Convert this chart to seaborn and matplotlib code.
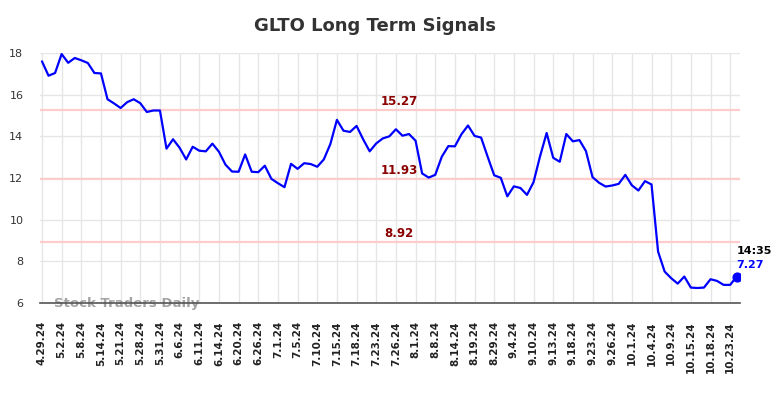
import pandas as pd
import matplotlib
matplotlib.use("Agg")
import matplotlib.pyplot as plt
import matplotlib.transforms as mtransforms
import seaborn as sns

# closing values, one per session
prices = [
    17.60, 16.91, 17.04, 17.95, 17.53, 17.76, 17.65, 17.52, 17.04, 17.02,
    15.78, 15.58, 15.36, 15.64, 15.78, 15.59, 15.17, 15.24, 15.24, 13.41,
    13.86, 13.45, 12.89, 13.50, 13.31, 13.28, 13.65, 13.26, 12.64, 12.31,
    12.30, 13.13, 12.30, 12.28, 12.59, 11.96, 11.75, 11.56, 12.68, 12.44,
    12.71, 12.67, 12.54, 12.89, 13.63, 14.79, 14.27, 14.21, 14.50, 13.86,
    13.28, 13.66, 13.90, 14.00, 14.34, 14.03, 14.11, 13.79, 12.22, 12.02,
    12.15, 13.02, 13.53, 13.52, 14.10, 14.52, 14.02, 13.94, 13.02, 12.13,
    12.01, 11.12, 11.60, 11.52, 11.19, 11.80, 13.05, 14.16, 12.97, 12.78,
    14.11, 13.76, 13.82, 13.29, 12.04, 11.77, 11.59, 11.64, 11.72, 12.15,
    11.65, 11.40, 11.85, 11.69, 8.47, 7.51, 7.19, 6.93, 7.27, 6.74,
    6.72, 6.74, 7.14, 7.06, 6.87, 6.87, 7.27,
]

tick_labels = [
    "4.29.24", "5.2.24", "5.8.24", "5.14.24", "5.21.24", "5.28.24", "5.31.24",
    "6.6.24", "6.11.24", "6.14.24", "6.20.24", "6.26.24", "7.1.24", "7.5.24",
    "7.10.24", "7.15.24", "7.18.24", "7.23.24", "7.26.24", "8.1.24", "8.8.24",
    "8.14.24", "8.19.24", "8.29.24", "9.4.24", "9.10.24", "9.13.24", "9.18.24",
    "9.23.24", "9.26.24", "10.1.24", "10.4.24", "10.9.24", "10.15.24",
    "10.18.24", "10.23.24",
]

levels = [15.27, 11.93, 8.92]
last_time = "14:35"

df = pd.DataFrame({"idx": range(len(prices)), "price": prices})

sns.set_theme(style="whitegrid")
plt.rcParams["font.family"] = ["DejaVu Sans"]

fig = plt.figure(figsize=(7.84, 3.98), dpi=100)
ax = fig.add_axes([40 / 784, 1 - 303 / 398, 700 / 784, 250 / 398])

for lv in levels:
    ax.axhline(lv, color="#ffcccc", lw=1.6, zorder=1)

sns.lineplot(data=df, x="idx", y="price", color="blue", lw=1.6, ax=ax, zorder=3)

# last point marker + labels
last_i = len(prices) - 1
ax.scatter([last_i], [prices[-1]], color="blue", s=40, zorder=4)
ax.annotate(last_time, (last_i, prices[-1]), xytext=(0, 15), textcoords="offset points",
            fontsize=8, fontweight="bold", color="black", ha="left", va="bottom")
ax.annotate(f"{prices[-1]:.2f}", (last_i, prices[-1]), xytext=(0, 5), textcoords="offset points",
            fontsize=8, fontweight="bold", color="blue", ha="left", va="bottom")

# level labels
trans = mtransforms.blended_transform_factory(ax.transAxes, ax.transData)
for lv in levels:
    ax.annotate(f"{lv:.2f}", (0.513, lv), xycoords=trans, xytext=(0, 1.5),
                textcoords="offset points", ha="center", va="bottom",
                fontsize=8.5, fontweight="bold", color="#8b0000", zorder=5)

ax.text(0.02, 0.0, "Stock Traders Daily", transform=ax.transAxes, fontsize=9.5,
        fontweight="bold", color="#999999", alpha=0.9, ha="left", va="center", zorder=2)

ax.set_xlim(-0.3, 106.5)
ax.set_ylim(6, 18)
ax.set_yticks([6, 8, 10, 12, 14, 16, 18])
ax.set_xticks(range(0, len(prices), 3))
ax.set_xticklabels(tick_labels, rotation=90, fontsize=7.5, fontweight="bold", color="#222222")
ax.tick_params(axis="y", labelsize=8, colors="#333333", length=0, pad=12)
ax.tick_params(axis="x", length=0, pad=13)
ax.set_xlabel("")
ax.set_ylabel("")

ax.grid(True, color="#e6e6e6", lw=1)
for s in ["top", "right", "left"]:
    ax.spines[s].set_visible(False)
ax.spines["bottom"].set_color("#555555")
ax.spines["bottom"].set_linewidth(1.2)
ax.spines["bottom"].set_zorder(6)

fig.text(374.5 / 784, 1 - 26 / 398, "GLTO Long Term Signals", ha="center", va="center",
         fontsize=13, fontweight="bold", color="#333333")

fig.savefig("out.png", dpi=100, facecolor="white")
